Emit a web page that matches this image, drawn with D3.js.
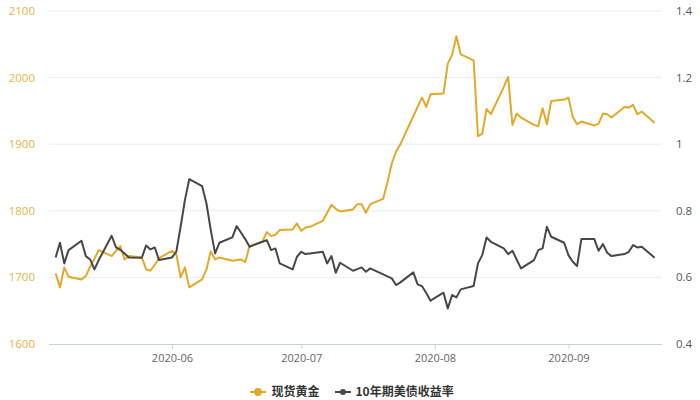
<!DOCTYPE html>
<html><head><meta charset="utf-8">
<script src="https://cdn.jsdelivr.net/npm/d3@7/dist/d3.min.js"></script>
<style>body{margin:0;background:#fff;}svg{display:block;font-family:"Noto Sans CJK SC","Noto Sans",sans-serif;}</style>
</head><body><svg id="c" width="700" height="400"></svg>
<script>
const dates = ["2020-05-05","2020-05-06","2020-05-07","2020-05-08","2020-05-11","2020-05-12","2020-05-13","2020-05-14","2020-05-15",
"2020-05-18","2020-05-19","2020-05-20","2020-05-21","2020-05-22","2020-05-25","2020-05-26","2020-05-27","2020-05-28","2020-05-29",
"2020-06-01","2020-06-02","2020-06-03","2020-06-04","2020-06-05","2020-06-08","2020-06-09","2020-06-10","2020-06-11","2020-06-12",
"2020-06-15","2020-06-16","2020-06-17","2020-06-18","2020-06-19","2020-06-22","2020-06-23","2020-06-24","2020-06-25","2020-06-26",
"2020-06-29","2020-06-30","2020-07-01","2020-07-02","2020-07-03","2020-07-06","2020-07-07","2020-07-08","2020-07-09","2020-07-10",
"2020-07-13","2020-07-14","2020-07-15","2020-07-16","2020-07-17","2020-07-20","2020-07-21","2020-07-22","2020-07-23","2020-07-24",
"2020-07-27","2020-07-28","2020-07-29","2020-07-30","2020-07-31","2020-08-03","2020-08-04","2020-08-05","2020-08-06","2020-08-07",
"2020-08-10","2020-08-11","2020-08-12","2020-08-13","2020-08-14","2020-08-17","2020-08-18","2020-08-19","2020-08-20","2020-08-21",
"2020-08-24","2020-08-25","2020-08-26","2020-08-27","2020-08-28","2020-08-31","2020-09-01","2020-09-02","2020-09-03","2020-09-04",
"2020-09-07","2020-09-08","2020-09-09","2020-09-10","2020-09-11","2020-09-14","2020-09-15","2020-09-16","2020-09-17","2020-09-18",
"2020-09-21"];
const gold = [1706,1685,1715,1701,1697,1702,1716,1728,1741,
1732,1740,1747,1727,1732,1730,1712,1710,1719,1729,
1740,1735,1700,1715,1685,1697,1712,1739,1727,1730,
1725,1726,1727,1723,1747,1754,1768,1762,1764,1771,
1772,1781,1770,1775,1776,1785,1797,1809,1803,1799,
1802,1810,1810,1797,1810,1818,1843,1871,1889,1900,
1942,1956,1970,1956,1975,1976,2021,2034,2062,2035,
2026,1912,1916,1953,1945,1986,2001,1929,1946,1940,
1929,1927,1954,1930,1965,1967,1970,1941,1930,1934,
1928,1931,1946,1945,1940,1956,1955,1959,1945,1949,
1932];
const yield10 = [0.660,0.704,0.642,0.682,0.710,0.664,0.654,0.624,0.652,
0.725,0.690,0.683,0.672,0.660,0.659,0.696,0.684,0.690,0.652,
0.660,0.677,0.752,0.832,0.895,0.874,0.822,0.742,0.672,0.704,
0.720,0.754,0.735,0.715,0.692,0.707,0.712,0.682,0.687,0.642,
0.624,0.662,0.677,0.670,0.672,0.677,0.642,0.664,0.614,0.644,
0.620,0.625,0.630,0.617,0.627,0.609,0.603,0.597,0.577,0.585,
0.615,0.579,0.574,0.553,0.530,0.554,0.507,0.547,0.540,0.564,
0.574,0.642,0.667,0.720,0.707,0.687,0.670,0.680,0.653,0.627,
0.652,0.682,0.687,0.752,0.722,0.704,0.667,0.647,0.634,0.715,
0.715,0.680,0.700,0.674,0.664,0.670,0.677,0.697,0.690,0.692,
0.659];
const leftTicks = [1600,1700,1800,1900,2000,2100];
const rightTicks = [0.4,0.6,0.8,1.0,1.2,1.4];
const monthTicks = ["2020-06-01","2020-07-01","2020-08-01","2020-09-01"];
const seriesNames = ["现货黄金","10年期美债收益率"];

const GOLD = "#e3a92a", GRAY = "#474747";
const parse = d3.timeParse("%Y-%m-%d");
const svg = d3.select("#c");
const L = 49, R = 662, T = 11, B = 344;
const x = d3.scaleTime().domain([new Date(2020,4,3,11), new Date(2020,8,22,17)]).range([L, R]);
const yL = d3.scaleLinear().domain([1600,2100]).range([B, T]);
const yR = d3.scaleLinear().domain([0.4,1.4]).range([B, T]);

// grid
svg.append("g").selectAll("line").data(leftTicks.slice(1)).join("line")
  .attr("x1", L).attr("x2", R).attr("y1", d=>yL(d)).attr("y2", d=>yL(d))
  .attr("stroke", "#ececec").attr("stroke-width", 1);

// left axis labels
svg.append("g").selectAll("text").data(leftTicks).join("text")
  .attr("x", 35).attr("y", d=>yL(d)).attr("dy","0.35em").attr("text-anchor","end")
  .attr("fill", "#e8b445").attr("font-size", 11.5).attr("font-family","Open Sans, sans-serif").text(d=>d);
// right axis labels
svg.append("g").selectAll("text").data(rightTicks).join("text")
  .attr("x", 676).attr("y", d=>yR(d)).attr("dy","0.35em").attr("text-anchor","start")
  .attr("fill", "#555").attr("font-size", 11.5).attr("font-family","Open Sans, sans-serif").text(d=>d3.format("~g")(d));

// x axis
const xa = svg.append("g").attr("transform", `translate(0,${B})`)
  .call(d3.axisBottom(x).tickValues(monthTicks.map(parse)).tickFormat(d3.timeFormat("%Y-%m")).tickSize(5).tickPadding(5));
xa.select(".domain").attr("stroke", "#c3d3e6").attr("d", `M${L},0.5H${R}`);
xa.selectAll(".tick line").attr("stroke", "#c3d3e6");
xa.selectAll(".tick text").attr("fill", "#666").attr("font-size", 11).attr("font-family","Open Sans, sans-serif");

const pts = dates.map((d,i)=>({t:parse(d), g:gold[i], y:yield10[i]}));
svg.append("path").datum(pts)
  .attr("d", d3.line().x(d=>x(d.t)).y(d=>yL(d.g)))
  .attr("fill","none").attr("stroke", GOLD).attr("stroke-width", 2).attr("stroke-linejoin","round");
svg.append("path").datum(pts)
  .attr("d", d3.line().x(d=>x(d.t)).y(d=>yR(d.y)))
  .attr("fill","none").attr("stroke", GRAY).attr("stroke-width", 2).attr("stroke-linejoin","round");

// legend
const lg = svg.append("g");
const items = [{name:seriesNames[0], c:GOLD, x0:250, r:4, tx:271.5},{name:seriesNames[1], c:GRAY, x0:335, r:3, tx:355.5}];
items.forEach(it=>{
  lg.append("line").attr("x1", it.x0).attr("x2", it.x0+16).attr("y1", 392).attr("y2", 392).attr("stroke", it.c).attr("stroke-width", 2);
  lg.append("circle").attr("cx", it.x0+8).attr("cy", 392).attr("r", it.r).attr("fill", it.c);
  lg.append("text").attr("x", it.tx).attr("y", 392).attr("dy","0.35em").attr("fill","#333")
    .attr("font-size", 12).attr("font-weight","bold").text(it.name);
});
</script></body></html>
